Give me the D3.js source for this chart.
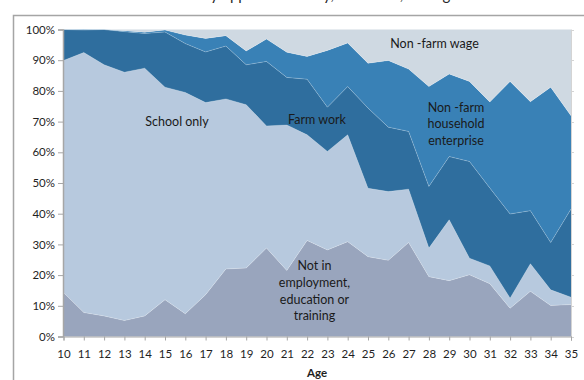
<!DOCTYPE html>
<html>
<head>
<meta charset="utf-8">
<script src="https://cdn.jsdelivr.net/npm/d3@7"></script>
<style>
  html, body { margin: 0; padding: 0; background: #fff; }
  svg { display: block; font-family: Lato, "Open Sans", "Noto Sans", sans-serif; }
</style>
</head>
<body>
<svg id="chart" width="584" height="380"></svg>
<script>
// Ages shown on the horizontal axis
const ages = [10, 11, 12, 13, 14, 15, 16, 17, 18, 19, 20, 21, 22, 23, 24, 25, 26, 27, 28, 29, 30, 31, 32, 33, 34, 35];

// Share of young people (%) in each activity, by age
const notInEET   = [14.3, 7.8, 6.7, 5.2, 6.7, 12.0, 7.4, 13.6, 22.0, 22.3, 28.8, 21.5, 31.3, 28.2, 30.9, 26.0, 24.8, 30.6, 19.5, 18.2, 20.1, 17.2, 9.2, 14.7, 10.1, 10.4];
const schoolOnly = [75.6, 84.7, 81.8, 80.9, 80.7, 69.2, 72.1, 62.6, 55.4, 53.2, 39.8, 47.4, 34.4, 32.1, 34.8, 22.3, 22.4, 17.4, 9.3, 19.8, 5.4, 5.8, 3.3, 9.0, 5.1, 2.4];
const farmWork   = [10.1, 7.3, 11.5, 13.2, 11.3, 18.0, 15.9, 16.5, 17.2, 13.0, 21.0, 15.5, 18.1, 14.4, 15.7, 26.1, 21.0, 18.8, 20.1, 20.6, 31.5, 25.4, 27.4, 17.3, 15.4, 28.7];
const nonFarmHH  = [0.0, 0.2, 0.0, 0.3, 0.4, 0.6, 2.8, 4.4, 3.4, 4.5, 7.3, 8.2, 7.4, 18.5, 14.2, 14.6, 21.7, 20.3, 32.5, 26.9, 26.1, 28.0, 43.2, 35.5, 50.6, 30.4];
const nonFarmWage= [0.0, 0.0, 0.0, 0.4, 0.9, 0.2, 1.8, 2.9, 2.0, 7.0, 3.1, 7.4, 8.8, 6.8, 4.4, 11.0, 10.1, 12.9, 18.6, 14.5, 16.9, 23.6, 16.9, 23.5, 18.8, 28.1];

// Percentage ticks on the vertical axis
const yTicks = [0, 10, 20, 30, 40, 50, 60, 70, 80, 90, 100];

const seriesKeys = ["neet", "school", "farm", "hh", "wage"];
const seriesColors = {
  neet: "#99a5bd",
  school: "#b7c9de",
  farm: "#2f6e9e",
  hh: "#3981b6",
  wage: "#cfd9e2"
};

const rows = ages.map((a, i) => ({
  age: a,
  neet: notInEET[i],
  school: schoolOnly[i],
  farm: farmWork[i],
  hh: nonFarmHH[i],
  wage: nonFarmWage[i]
}));

const svg = d3.select("#chart");

// Plot frame
const plotLeft = 63.5, plotRight = 571, plotTop = 29.5, plotBottom = 336.5;

const x = d3.scaleLinear().domain([d3.min(ages), d3.max(ages)]).range([plotLeft, plotRight]);
const y = d3.scaleLinear().domain([0, 100]).range([plotBottom, plotTop]);

// Outer chart border (only top and left edges fall inside the view)
svg.append("path")
  .attr("d", "M13.5,380 L13.5,15.5 L584,15.5")
  .attr("fill", "none")
  .attr("stroke", "#a5a5a5")
  .attr("stroke-width", 1.5);

// Title, sitting above the border
svg.append("text")
  .attr("x", 290).attr("y", 0)
  .attr("text-anchor", "middle")
  .attr("font-size", 15)
  .attr("fill", "#262626")
  .text("Main status by upper secondary, rural area, and age");

// Stacked areas
const stack = d3.stack().keys(seriesKeys);
const layers = stack(rows);

const area = d3.area()
  .x(d => x(d.data.age))
  .y0(d => y(d[0]))
  .y1(d => y(d[1]));

svg.append("g").selectAll("path")
  .data(layers)
  .join("path")
  .attr("d", area)
  .attr("fill", d => seriesColors[d.key]);

// Faint light edge along each layer boundary
const edge = d3.line().x(d => x(d.data.age)).y(d => y(d[1]));
svg.append("g").selectAll("path")
  .data(layers.slice(0, 4))
  .join("path")
  .attr("d", edge)
  .attr("fill", "none")
  .attr("stroke", "#ffffff")
  .attr("stroke-opacity", 0.35)
  .attr("stroke-width", 0.6);

// Right-hand frame line with small ticks
svg.append("line")
  .attr("x1", plotRight + 0.5).attr("x2", plotRight + 0.5)
  .attr("y1", plotTop).attr("y2", plotBottom + 4)
  .attr("stroke", "#d4d4d4");
svg.append("g").selectAll("line")
  .data(yTicks)
  .join("line")
  .attr("x1", plotRight + 0.5).attr("x2", plotRight + 3)
  .attr("y1", d => Math.round(y(d)) + 0.5).attr("y2", d => Math.round(y(d)) + 0.5)
  .attr("stroke", "#d4d4d4");

// Y axis
const yAxis = d3.axisLeft(y)
  .tickValues(yTicks)
  .tickFormat(d => d + "%")
  .tickSize(5)
  .tickPadding(3);
const gy = svg.append("g").attr("transform", `translate(${plotLeft - 0.5},0)`).call(yAxis);
gy.select(".domain").attr("stroke", "#a6a6a6").attr("stroke-width", 1.5);
gy.selectAll(".tick line").attr("stroke", "#a6a6a6");
gy.selectAll(".tick text").attr("font-size", 11.5).attr("fill", "#1f1f1f")
  .attr("font-family", "Lato, 'Open Sans', sans-serif");

// X axis
const xAxis = d3.axisBottom(x)
  .tickValues(ages)
  .tickFormat(d3.format("d"))
  .tickSize(4)
  .tickPadding(9);
const gx = svg.append("g").attr("transform", `translate(0,${plotBottom})`).call(xAxis);
gx.select(".domain").attr("stroke", "#a6a6a6").attr("stroke-width", 1);
gx.selectAll(".tick line").attr("stroke", "#a6a6a6");
gx.selectAll(".tick text").attr("font-size", 11.5).attr("fill", "#1f1f1f")
  .attr("font-family", "Lato, 'Open Sans', sans-serif");

svg.append("text")
  .attr("x", 317).attr("y", 377)
  .attr("text-anchor", "middle")
  .attr("font-size", 11.5)
  .attr("font-weight", "bold")
  .attr("fill", "#1f1f1f")
  .text("Age");

// Series labels placed inside their areas
const labels = [
  { lines: ["School only"], x: 177, y: 126 },
  { lines: ["Farm work"], x: 317, y: 123.5 },
  { lines: ["Non -farm wage"], x: 434.5, y: 47.5 },
  { lines: ["Non -farm", "household", "enterprise"], x: 456, y: 111.5 },
  { lines: ["Not in", "employment,", "education or", "training"], x: 314.5, y: 270 }
];
const lg = svg.append("g")
  .attr("font-size", 12.5)
  .attr("fill", "#1a1a1a")
  .attr("text-anchor", "middle");
labels.forEach(l => {
  const t = lg.append("text").attr("x", l.x).attr("y", l.y);
  l.lines.forEach((s, i) => {
    t.append("tspan").attr("x", l.x).attr("dy", i === 0 ? 0 : 16.8).text(s);
  });
});
</script>
</body>
</html>
